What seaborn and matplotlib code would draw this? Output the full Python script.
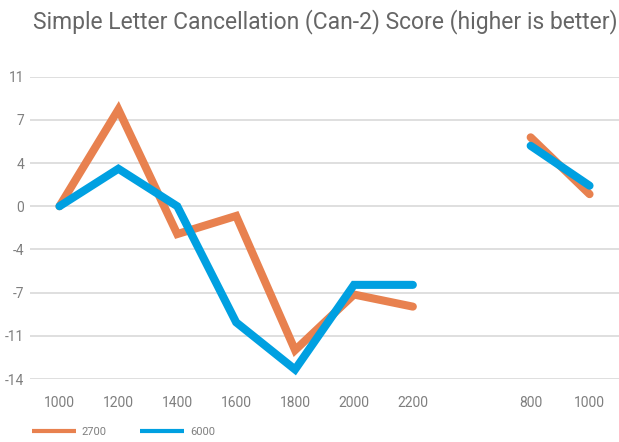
import numpy as np
import pandas as pd
import matplotlib
matplotlib.use("Agg")
import matplotlib.pyplot as plt
import seaborn as sns

# Dados
categorias = ["1000", "1200", "1400", "1600", "1800", "2000", "2200", "", "800", "1000"]
score_2700 = [0.0, 8.0, -2.3, -0.8, -11.9, -7.3, -8.3, np.nan, 5.7, 1.0]
score_6000 = [0.0, 3.1, 0.0, -9.6, -13.5, -6.5, -6.5, np.nan, 5.0, 1.7]
series = ["2700", "6000"]
cores = {"2700": "#E8814F", "6000": "#00A0E1"}

# Formato longo; cada bloco sem NaN vira uma unidade separada
linhas = []
for nome, valores in zip(series, [score_2700, score_6000]):
    seg = 0
    for i, v in enumerate(valores):
        if np.isnan(v):
            seg += 1
            continue
        linhas.append({"pos": i, "score": v, "serie": nome, "seg": f"{nome}_{seg}"})
df = pd.DataFrame(linhas)

sns.set_style("white")
plt.rcParams["font.family"] = ["Roboto", "DejaVu Sans"]

fig = plt.figure(figsize=(6.19, 4.42), dpi=100)
ax = fig.add_axes([0.0485, 0.1425, 0.9515, 0.684])

passo = 25 / 7
ticks = np.arange(-4, 4) * passo
ax.set_ylim(ticks[0], ticks[-1])
ax.set_yticks(ticks)
ax.set_yticklabels([f"{round(t):d}" for t in ticks])
ax.yaxis.grid(True, color="#D9D9D9", linewidth=1.2)
ax.set_axisbelow(True)

sns.lineplot(data=df, x="pos", y="score", hue="serie", units="seg",
             estimator=None, palette=cores, linewidth=5.8, legend=False,
             ax=ax, solid_capstyle="round", solid_joinstyle="miter")

ax.set_xlim(-0.5, len(categorias) - 0.5)
ax.set_xticks(range(len(categorias)))
ax.set_xticklabels(categorias)
ax.set_xlabel("")
ax.set_ylabel("")
for s in ax.spines.values():
    s.set_visible(False)
ax.tick_params(axis="both", length=0, labelsize=10, labelcolor="#7F7F7F")
ax.tick_params(axis="x", pad=12)
ax.tick_params(axis="y", pad=4)

fig.text(33 / 619, 1 - 22 / 442, "Simple Letter Cancellation (Can-2) Score (higher is better)",
         fontsize=16.5, color="#666666", va="center", ha="left")

handles = [plt.Line2D([], [], color=cores[n], linewidth=3, solid_capstyle="butt") for n in series]
fig.legend(handles, series, loc="center left", bbox_to_anchor=(0.035, 1 - 432 / 442),
           ncol=2, frameon=False, fontsize=8, handlelength=4, columnspacing=3,
           handletextpad=0.5, labelcolor="#7F7F7F")

fig.savefig("out.png", dpi=100)
